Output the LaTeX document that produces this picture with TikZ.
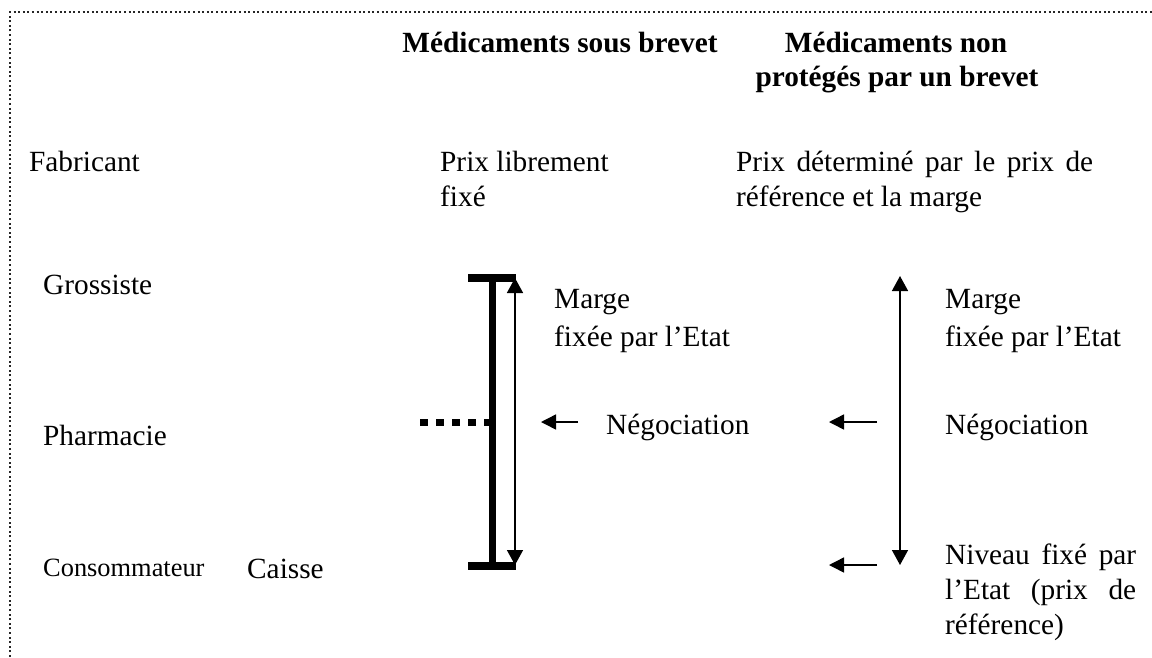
\documentclass[tikz,border=0pt]{standalone}
\usepackage{fontspec}
\setmainfont{Liberation Serif}
\usetikzlibrary{arrows.meta}
\begin{document}
\begin{tikzpicture}[x=1pt,y=-1pt,
  txt/.style={anchor=base west, inner sep=0pt, font=\fontsize{29.3}{35}\selectfont},
  hdr/.style={anchor=base, inner sep=0pt, font=\fontsize{29.3}{35}\selectfont\bfseries},
  small/.style={anchor=base west, inner sep=0pt, font=\fontsize{26.4}{32}\selectfont},
  frame/.style={line width=2pt, dash pattern=on 2pt off 2.6pt, black!85},
  thickbar/.style={line width=7pt},
  capbar/.style={line width=8pt},
  dotbar/.style={line width=7pt, dash pattern=on 8pt off 8pt},
  dblarrow/.style={line width=1.5pt, {Triangle[length=15pt,width=16pt]}-{Triangle[length=15pt,width=16pt]}},
  leftarrow/.style={line width=1.5pt, -{Triangle[length=15pt,width=15pt]}}
]
\useasboundingbox (0,0) rectangle (1152,657);

% frame (top and left dotted edges)
\coordinate (fbl) at (10,657);
\coordinate (ftl) at (10,12);
\coordinate (ftr) at (1152,12);
\draw[frame] (fbl) -- (ftl) -- (ftr);

% headers
\node[hdr] (h1) at (560,52) {Médicaments sous brevet};
\node[hdr] (h2a) at (896,52) {Médicaments non};
\node[hdr] (h2b) at (897,86) {protégés par un brevet};

% row labels
\node[txt] (fab) at (29,171) {Fabricant};
\node[txt] (gro) at (43,294) {Grossiste};
\node[txt] (pha) at (43,445) {Pharmacie};
\node[small] (con) at (43,576) {Consommateur};
\node[txt] (cai) at (247,578) {Caisse};

% patented column
\node[txt] (pl1) at (440,171) {Prix librement};
\node[txt] (pl2) at (440,206) {fixé};
\node[txt] (m1a) at (554,308) {Marge};
\node[txt] (m1b) at (554,346) {fixée par l’Etat};
\node[txt] (n1) at (606,434) {Négociation};

% non-patented column
\node[txt] (pd1) at (736,171) {\makebox[357pt][s]{Prix déterminé par le prix de}};
\node[txt] (pd2) at (736,206) {référence et la marge};
\node[txt] (m2a) at (945,308) {Marge};
\node[txt] (m2b) at (945,346) {fixée par l’Etat};
\node[txt] (n2) at (945,434) {Négociation};
\node[txt] (nv1) at (945,564) {\makebox[191pt][s]{Niveau fixé par}};
\node[txt] (nv2) at (945,599) {\makebox[191pt][s]{l’Etat (prix de}};
\node[txt] (nv3) at (945,634) {référence)};

% thick bracket bar
\coordinate (bt) at (492.5,277.5);
\coordinate (bb) at (492.5,565.5);
\coordinate (btl) at (468,277.5);
\coordinate (btr) at (516,277.5);
\coordinate (bbl) at (468,565.5);
\coordinate (bbr) at (516,565.5);
\draw[thickbar] (bt) -- (bb);
\draw[capbar] (btl) -- (btr);
\draw[capbar] (bbl) -- (bbr);

% dotted thick line
\coordinate (ds) at (420,422);
\coordinate (de) at (489,422);
\draw[dotbar] (ds) -- (de);

% thin double arrow (patented)
\coordinate (a1t) at (515,278);
\coordinate (a1b) at (515,565);
\draw[dblarrow] (a1t) -- (a1b);

% negotiation arrow (patented)
\coordinate (l1s) at (578,422);
\coordinate (l1e) at (541,422);
\draw[leftarrow] (l1s) -- (l1e);

% double arrow (non-patented)
\coordinate (a2t) at (900,276);
\coordinate (a2b) at (900,565);
\draw[dblarrow] (a2t) -- (a2b);

% arrows (non-patented)
\coordinate (l2s) at (877,422);
\coordinate (l2e) at (829,422);
\draw[leftarrow] (l2s) -- (l2e);
\coordinate (l3s) at (877,565);
\coordinate (l3e) at (829,565);
\draw[leftarrow] (l3s) -- (l3e);
\end{tikzpicture}
\end{document}
